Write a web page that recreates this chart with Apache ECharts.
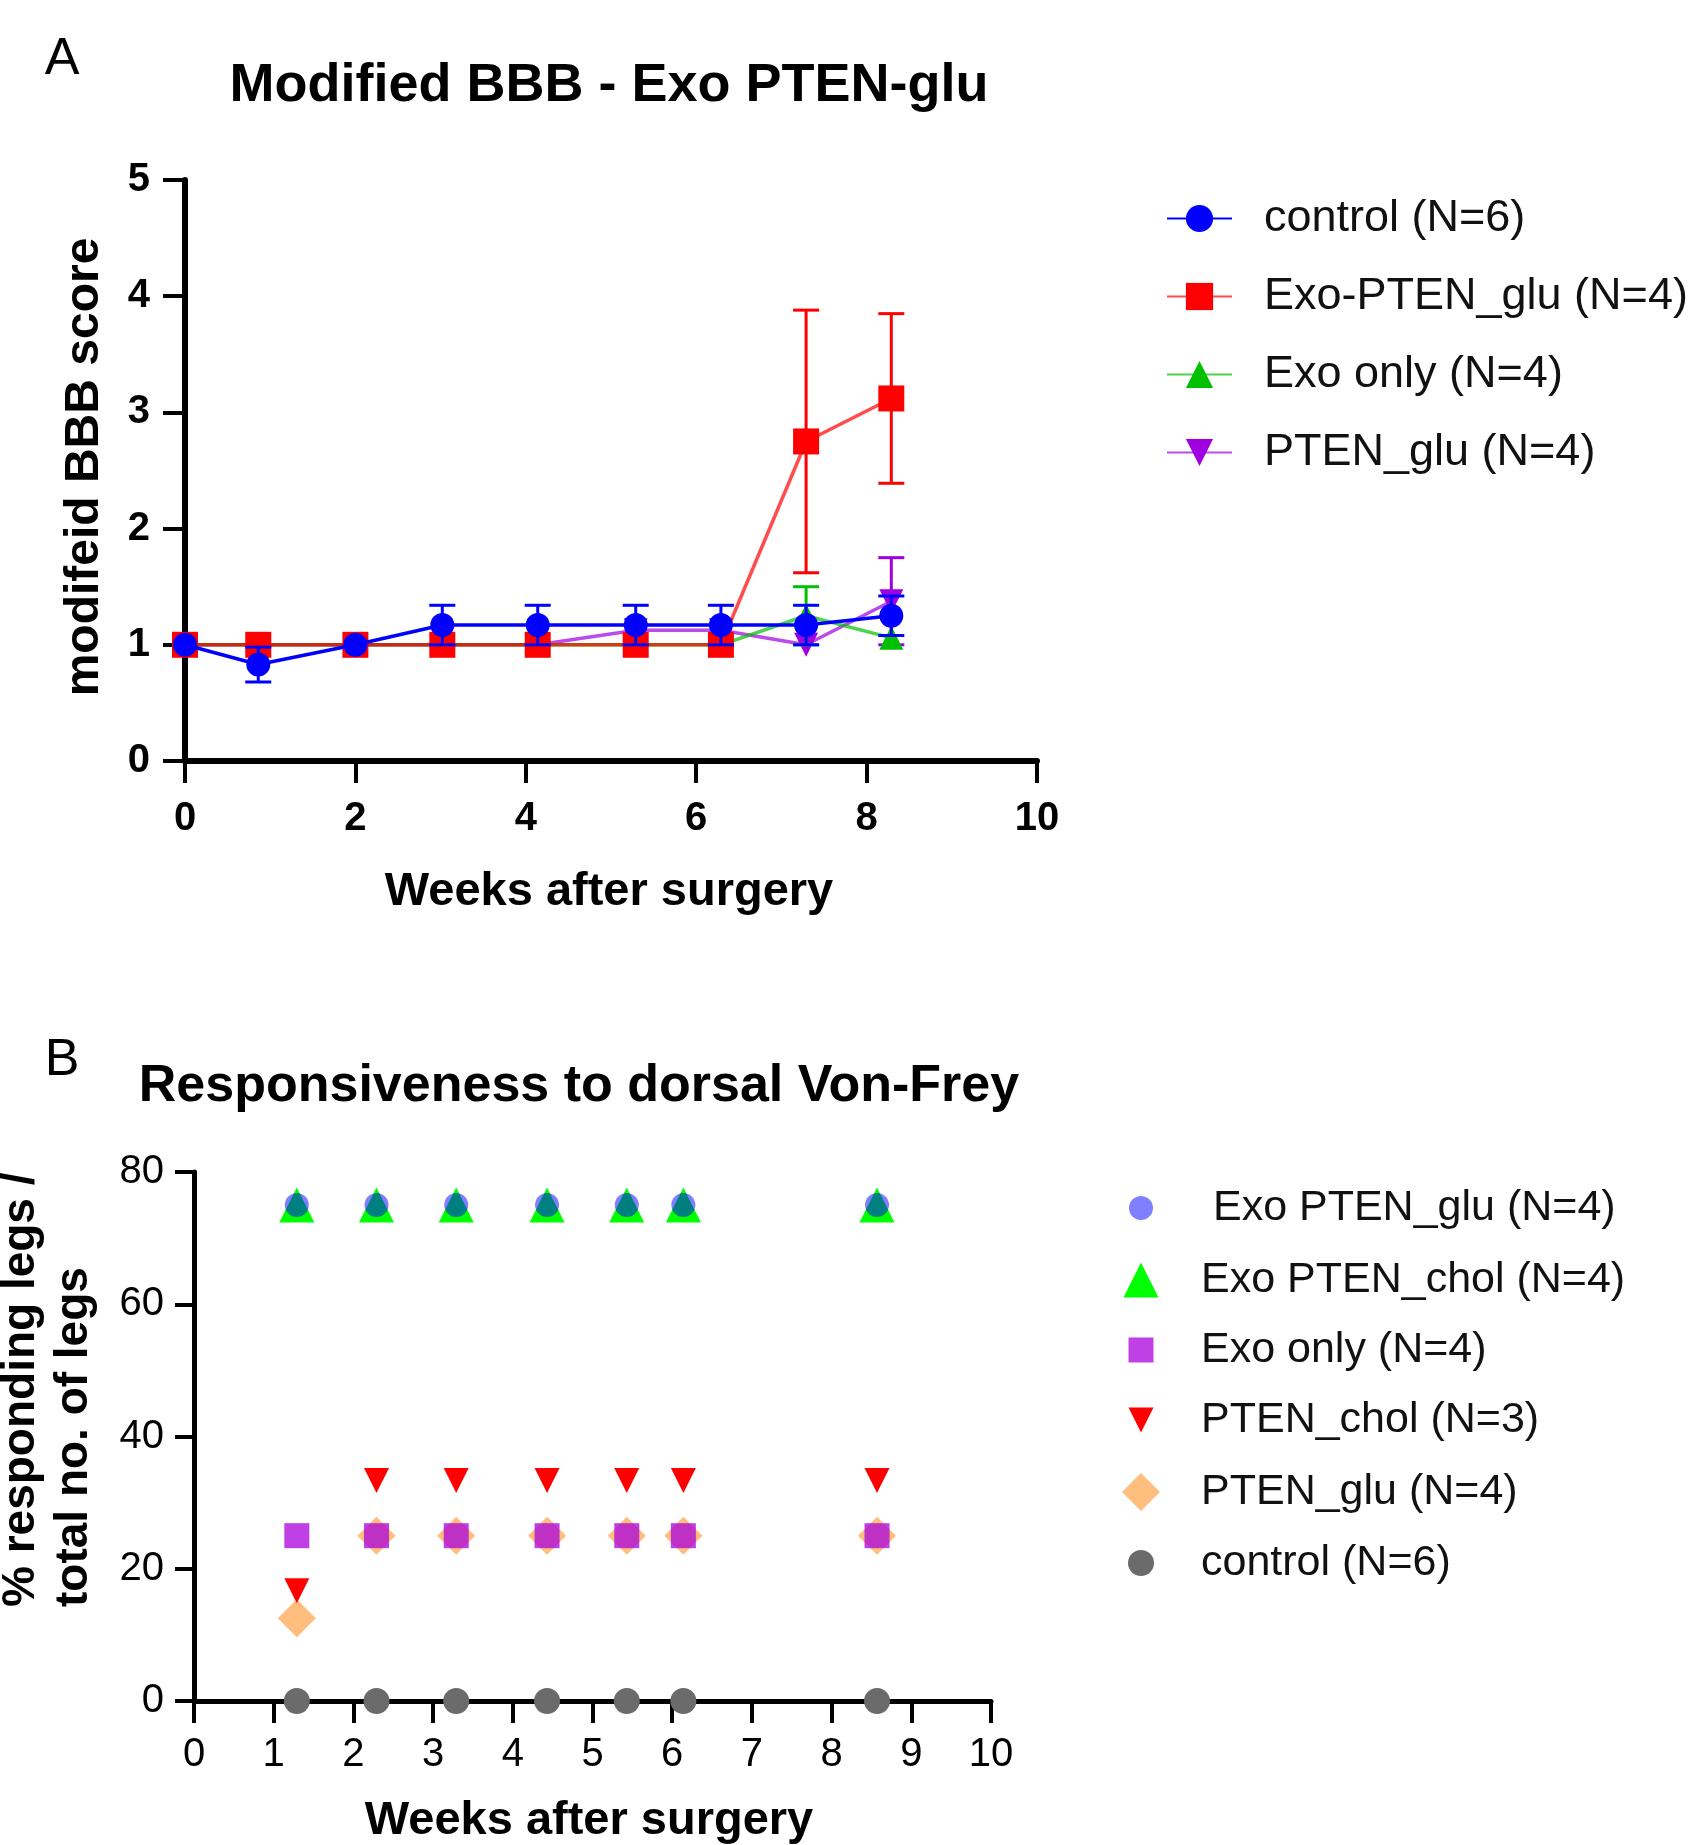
<!DOCTYPE html>
<html>
<head>
<meta charset="utf-8">
<title>Modified BBB / Von-Frey</title>
<script src="https://cdn.jsdelivr.net/npm/echarts@6/dist/echarts.min.js"></script>
<style>
  html, body { margin: 0; padding: 0; background: #fff; }
  #main { width: 1706px; height: 1845px; }
</style>
</head>
<body>
<div id="main"></div>
<script>
// ---------- panel A : modified BBB score ----------
var weeksA = [0, 0.86, 2, 3.02, 4.14, 5.29, 6.29, 7.29, 8.29];
var namesA = ['control (N=6)', 'Exo-PTEN_glu (N=4)', 'Exo only (N=4)', 'PTEN_glu (N=4)'];
var controlA = [1, 0.83, 1, 1.17, 1.17, 1.17, 1.17, 1.17, 1.25];
var controlSemA = [0, 0.15, 0, 0.17, 0.17, 0.17, 0.17, 0.17, 0.17];
var exoPtenA = [1, 1, 1, 1, 1, 1, 1, 2.75, 3.12];
var exoPtenSemA = [0, 0, 0, 0, 0, 0, 0, 1.13, 0.73];
var exoOnlyA = [1, 1, 1, 1, 1, 1, 1, 1.25, 1.06];
var exoOnlySemA = [0, 0, 0, 0, 0, 0, 0, 0.25, 0];
var ptenGluA = [1, 1, 1, 1, 1, 1.125, 1.125, 1, 1.375];
var ptenGluSemA = [0, 0, 0, 0, 0, 0, 0, 0, 0.375];
var xTicksA = [0, 2, 4, 6, 8, 10];
var yTicksA = [0, 1, 2, 3, 4, 5];

// ---------- panel B : Von-Frey responsiveness ----------
var weeksB = [1.29, 2.29, 3.29, 4.43, 5.43, 6.14, 8.57];
var namesB = [' Exo PTEN_glu (N=4)', 'Exo PTEN_chol (N=4)', 'Exo only (N=4)', 'PTEN_chol (N=3)', 'PTEN_glu (N=4)', 'control (N=6)'];
var exoPtenGluB = [75, 75, 75, 75, 75, 75, 75];
var exoPtenCholB = [75, 75, 75, 75, 75, 75, 75];
var exoOnlyB = [25, 25, 25, 25, 25, 25, 25];
var ptenCholB = [16.67, 33.33, 33.33, 33.33, 33.33, 33.33, 33.33];
var ptenGluB = [12.5, 25, 25, 25, 25, 25, 25];
var controlB = [0, 0, 0, 0, 0, 0, 0];
var xTicksB = [0, 1, 2, 3, 4, 5, 6, 7, 8, 9, 10];
var yTicksB = [0, 20, 40, 60, 80];

var FONT = '"Liberation Sans", Arial, sans-serif';
var DOWN_TRI = 'path://M0,0L20,0L10,20Z';

function pairs(xs, ys) {
  return xs.map(function (x, i) { return [x, ys[i]]; });
}
function semData(xs, ys, sem) {
  var out = [];
  xs.forEach(function (x, i) {
    if (sem[i] > 0) out.push([x, ys[i] - sem[i], ys[i] + sem[i]]);
  });
  return out;
}
function errorBar(params, api) {
  var top = api.coord([api.value(0), api.value(2)]);
  var bot = api.coord([api.value(0), api.value(1)]);
  var half = 13;
  var st = { stroke: api.visual('color'), lineWidth: 3 };
  return {
    type: 'group',
    children: [
      { type: 'line', shape: { x1: top[0], y1: top[1], x2: bot[0], y2: bot[1] }, style: st },
      { type: 'line', shape: { x1: top[0] - half, y1: top[1], x2: top[0] + half, y2: top[1] }, style: st },
      { type: 'line', shape: { x1: bot[0] - half, y1: bot[1], x2: bot[0] + half, y2: bot[1] }, style: st }
    ]
  };
}
function stripB(n) { return n.replace(/^B\|/, ''); }

var dom = document.getElementById('main');
var myChart = echarts.init(dom, null, { renderer: 'canvas' });

// panel A series (drawn bottom to top)
var specA = [
  { name: namesA[3], y: ptenGluA, sem: ptenGluSemA, color: '#a000e0', line: 'rgba(170,30,230,0.8)', symbol: DOWN_TRI, size: 24 },
  { name: namesA[2], y: exoOnlyA, sem: exoOnlySemA, color: '#00c000', line: 'rgba(0,192,0,0.7)', symbol: 'triangle', size: 24 },
  { name: namesA[1], y: exoPtenA, sem: exoPtenSemA, color: '#ff0000', line: 'rgba(255,0,0,0.7)', symbol: 'rect', size: 26 },
  { name: namesA[0], y: controlA, sem: controlSemA, color: '#0000ff', line: '#0000ff', symbol: 'circle', size: 24 }
];
var series = [];
specA.forEach(function (s, k) {
  series.push({
    name: 'sem ' + s.name,
    type: 'custom',
    xAxisIndex: 0, yAxisIndex: 0,
    renderItem: errorBar,
    itemStyle: { color: s.color },
    encode: { x: 0, y: [1, 2] },
    data: semData(weeksA, s.y, s.sem),
    z: 2 + k * 2,
    silent: true
  });
  series.push({
    name: s.name,
    type: 'line',
    xAxisIndex: 0, yAxisIndex: 0,
    data: pairs(weeksA, s.y),
    symbol: s.symbol,
    symbolSize: s.size,
    showAllSymbol: true,
    clip: false,
    itemStyle: { color: s.color },
    lineStyle: { color: s.line, width: 3.5 },
    z: 3 + k * 2,
    animation: false
  });
});

// panel B series (drawn bottom to top)
var specB = [
  { name: namesB[5], y: controlB, color: '#6b6b6b', symbol: 'circle', size: 26 },
  { name: namesB[4], y: ptenGluB, color: '#ffbe7d', symbol: 'diamond', size: 38 },
  { name: namesB[3], y: ptenCholB, color: '#ff0000', symbol: DOWN_TRI, size: 25 },
  { name: namesB[2], y: exoOnlyB, color: 'rgba(170,0,220,0.75)', symbol: 'rect', size: 25 },
  { name: namesB[1], y: exoPtenCholB, color: '#00ff00', symbol: 'triangle', size: 35 },
  { name: namesB[0], y: exoPtenGluB, color: 'rgba(0,0,255,0.5)', symbol: 'circle', size: 24 }
];
specB.forEach(function (s, k) {
  series.push({
    name: 'B|' + s.name,
    type: 'scatter',
    xAxisIndex: 1, yAxisIndex: 1,
    data: pairs(weeksB, s.y),
    symbol: s.symbol,
    symbolSize: s.size,
    clip: false,
    itemStyle: { color: s.color, opacity: 1 },
    z: 3 + k,
    animation: false
  });
});

// legend B: one small legend per entry so each marker keeps its own size
var legendCY = [1208, 1280, 1350, 1420, 1492, 1563];
var legendSizeB = [24, 35, 25, 25, 38, 26];
var legendIconX = 1141, legendTextX = 1201;
var legends = [{
  orient: 'vertical',
  left: 1166, top: 196, padding: 0,
  itemWidth: 65, itemHeight: 34, itemGap: 33,
  data: namesA,
  textStyle: { fontFamily: FONT, fontSize: 45, lineHeight: 45, color: '#111', padding: [0, 0, 0, 27] }
}];
namesB.forEach(function (n, i) {
  var h = legendSizeB[i];
  legends.push({
    orient: 'vertical',
    left: legendIconX - h / 2, top: legendCY[i] - Math.max(h, 44) / 2, padding: 0,
    itemWidth: h, itemHeight: h,
    data: ['B|' + n],
    formatter: stripB,
    textStyle: {
      fontFamily: FONT, fontSize: 43, lineHeight: 44, color: '#111',
      padding: [0, 0, 0, legendTextX - legendIconX - h / 2 - 5]
    }
  });
});

function axisBase(width, tickLen) {
  return {
    axisLine: { show: true, onZero: false, lineStyle: { color: '#000', width: width } },
    axisTick: { show: true, inside: false, length: tickLen, lineStyle: { color: '#000', width: 4 } },
    splitLine: { show: false }
  };
}

var xA = echarts.util.merge(axisBase(6, 22), {
  type: 'value', gridIndex: 0,
  min: xTicksA[0], max: xTicksA[xTicksA.length - 1], interval: xTicksA[1] - xTicksA[0],
  axisLabel: { fontFamily: FONT, fontSize: 40, fontWeight: 'bold', color: '#000', margin: 38 }
});
var yA = echarts.util.merge(axisBase(6, 22), {
  type: 'value', gridIndex: 0,
  min: yTicksA[0], max: yTicksA[yTicksA.length - 1], interval: yTicksA[1] - yTicksA[0],
  axisLabel: { fontFamily: FONT, fontSize: 40, fontWeight: 'bold', color: '#000', margin: 35 }
});
var xB = echarts.util.merge(axisBase(5, 22), {
  type: 'value', gridIndex: 1,
  min: xTicksB[0], max: xTicksB[xTicksB.length - 1], interval: xTicksB[1] - xTicksB[0],
  axisLabel: { fontFamily: FONT, fontSize: 40, color: '#000', margin: 34 }
});
var yB = echarts.util.merge(axisBase(5, 19), {
  type: 'value', gridIndex: 1,
  min: yTicksB[0], max: yTicksB[yTicksB.length - 1], interval: yTicksB[1] - yTicksB[0],
  axisLabel: { fontFamily: FONT, fontSize: 40, color: '#000', margin: 30 }
});

function label(txt, x, y, font, opts) {
  opts = opts || {};
  return {
    type: 'text', x: x, y: y, rotation: opts.rotation || 0, z: 100,
    style: {
      text: txt, font: font, fill: '#000',
      align: opts.align || 'center', verticalAlign: 'middle',
      textAlign: opts.align || 'center', textVerticalAlign: 'middle'
    }
  };
}

option = {
  backgroundColor: '#fff',
  animation: false,
  grid: [
    { left: 185, top: 180, width: 852, height: 581 },
    { left: 194, top: 1172, width: 797, height: 529 }
  ],
  xAxis: [xA, xB],
  yAxis: [yA, yB],
  legend: legends,
  series: series,
  graphic: [
    label('A', 62, 60, 'normal 52px ' + FONT),
    label('Modified BBB - Exo PTEN-glu', 609, 86, 'bold 54px ' + FONT),
    label('modifeid BBB score', 85, 467, 'bold 48px ' + FONT, { rotation: Math.PI / 2 }),
    label('Weeks after surgery', 609, 892, 'bold 47px ' + FONT),
    label('B', 62, 1061, 'normal 52px ' + FONT),
    label('Responsiveness to dorsal Von-Frey', 579, 1087, 'bold 52px ' + FONT),
    label('% responding legs /', 21, 1607, 'bold 46px ' + FONT, { rotation: Math.PI / 2, align: 'left' }),
    label('total no. of legs', 74, 1607, 'bold 46px ' + FONT, { rotation: Math.PI / 2, align: 'left' }),
    label('Weeks after surgery', 589, 1821, 'bold 47px ' + FONT)
  ]
};

if (option && typeof option === 'object') {
  myChart.setOption(option, true);
}
</script>
</body>
</html>
